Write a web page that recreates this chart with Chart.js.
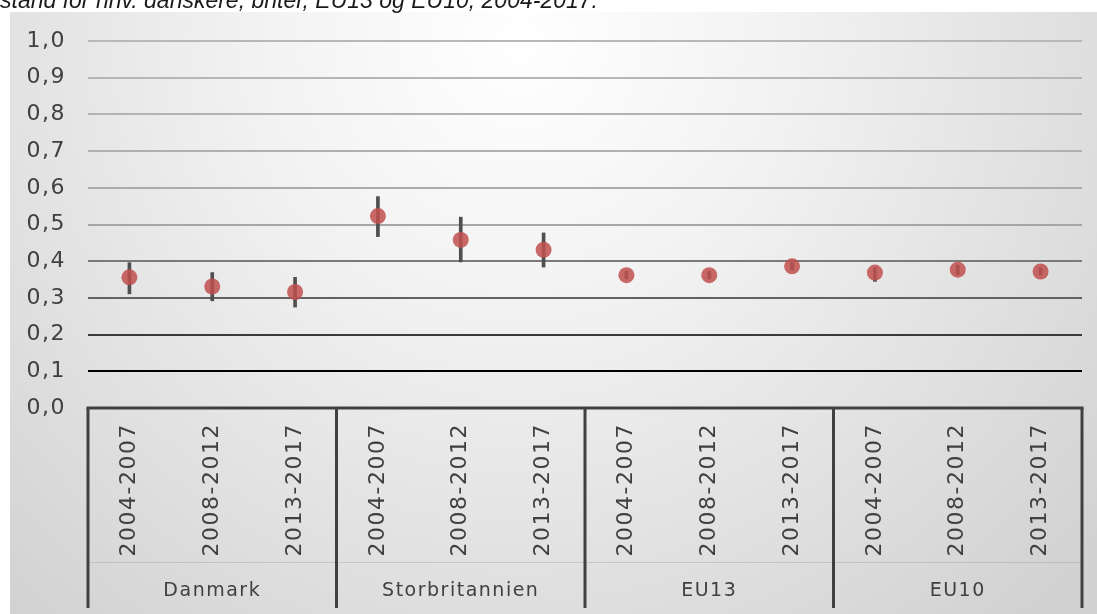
<!DOCTYPE html>
<html>
<head>
<meta charset="utf-8">
<script src="https://cdn.jsdelivr.net/npm/chart.js@4/dist/chart.umd.min.js"></script>
<style>
  html, body { margin: 0; padding: 0; background: #ffffff; overflow: hidden; }
  #wrap { position: relative; width: 1097px; height: 614px; }
  #cap { position: absolute; left: 0px; top: -11px; font: italic 23px "Liberation Sans", Arial, sans-serif; line-height: 23px; color: #1a1a1a; white-space: nowrap; z-index: 2; }
  canvas { position: absolute; left: 0; top: 0; }
</style>
</head>
<body>
<div id="wrap">
  <div id="cap">stand for hhv. danskere, briter, EU13 og EU10, 2004-2017.</div>
  <canvas id="c" width="1097" height="614"></canvas>
</div>
<script>
const categories = ['2004-2007','2008-2012','2013-2017','2004-2007','2008-2012','2013-2017','2004-2007','2008-2012','2013-2017','2004-2007','2008-2012','2013-2017'];
const groups = ['Danmark','Storbritannien','EU13','EU10'];
const pointValues = [0.356, 0.331, 0.316, 0.523, 0.458, 0.431, 0.362, 0.362, 0.386, 0.369, 0.377, 0.372];
const lowValues   = [0.311, 0.292, 0.275, 0.467, 0.398, 0.384, 0.352, 0.352, 0.376, 0.345, 0.364, 0.362];
const highValues  = [0.396, 0.369, 0.356, 0.576, 0.520, 0.477, 0.372, 0.372, 0.396, 0.383, 0.389, 0.382];
const yTickValues = [0.0, 0.1, 0.2, 0.3, 0.4, 0.5, 0.6, 0.7, 0.8, 0.9, 1.0];

const gridColors = ['rgba(0,0,0,0)', '#000000', '#3a3a3a', '#626262', '#7a7a7a', '#a6a6a6', '#ababab', '#b0b0b0', '#b3b3b3', '#b6b6b6', '#b8b8b8'];
const FONT = '"DejaVu Sans", "Noto Sans", sans-serif';

const spacingPlugin = {
  id: 'spacing',
  beforeInit(chart) { chart.ctx.letterSpacing = '1.5px'; },
  beforeUpdate(chart) { chart.ctx.letterSpacing = '1.5px'; },
  beforeDraw(chart) { chart.ctx.letterSpacing = '1.5px'; }
};

const bgPlugin = {
  id: 'bg',
  beforeDraw(chart) {
    const ctx = chart.ctx;
    ctx.save();
    const g = ctx.createRadialGradient(520, 40, 0, 520, 40, 760);
    g.addColorStop(0, '#ffffff');
    g.addColorStop(0.35, '#f2f2f2');
    g.addColorStop(1, '#d2d2d2');
    ctx.fillStyle = g;
    ctx.fillRect(10, 12, 1087, 602);
    ctx.restore();
  }
};

const framePlugin = {
  id: 'frame',
  afterDraw(chart) {
    const ctx = chart.ctx;
    const x = chart.scales.x, y = chart.scales.y, g = chart.scales.xg;
    const y0 = y.getPixelForValue(0);
    const bottom = 608;
    ctx.save();
    ctx.strokeStyle = 'rgba(150,150,150,0.35)';
    ctx.lineWidth = 1;
    ctx.beginPath();
    ctx.moveTo(chart.chartArea.left, g.top + 0.5);
    ctx.lineTo(chart.chartArea.right, g.top + 0.5);
    ctx.stroke();
    ctx.strokeStyle = '#404040';
    ctx.lineWidth = 3;
    ctx.beginPath();
    ctx.moveTo(chart.chartArea.left - 1.5, y0);
    ctx.lineTo(chart.chartArea.right + 1.5, y0);
    ctx.stroke();
    const n = categories.length;
    const step = (x.getPixelForValue(1) - x.getPixelForValue(0));
    const bounds = [];
    for (let i = 0; i <= n; i += 3) {
      bounds.push(x.getPixelForValue(0) - step / 2 + i * step);
    }
    ctx.beginPath();
    bounds.forEach(bx => { ctx.moveTo(bx, y0); ctx.lineTo(bx, bottom); });
    ctx.stroke();
    ctx.restore();
  }
};

new Chart(document.getElementById('c'), {
  type: 'bar',
  data: {
    labels: categories,
    datasets: [
      {
        type: 'line',
        data: pointValues,
        showLine: false,
        pointRadius: 8,
        pointHoverRadius: 8,
        pointBackgroundColor: 'rgba(192,80,77,0.85)',
        pointBorderWidth: 0,
        pointBorderColor: 'rgba(0,0,0,0)',
        order: 0
      },
      {
        type: 'bar',
        data: lowValues.map((lo, i) => [lo, highValues[i]]),
        backgroundColor: '#4f4f4f',
        borderWidth: 0,
        barThickness: 3,
        order: 1
      }
    ]
  },
  options: {
    responsive: false,
    animation: false,
    events: [],
    layout: { padding: { top: 41, right: 15, left: 0, bottom: 0 } },
    plugins: { legend: { display: false }, tooltip: { enabled: false } },
    scales: {
      y: {
        min: 0, max: 1,
        afterFit(s) { s.width = 88; },
        afterBuildTicks(s) { s.ticks = yTickValues.map(v => ({ value: v })); },
        ticks: {
          padding: 22,
          color: '#404040',
          font: { family: FONT, size: 22 },
          callback: (v) => Number(v).toFixed(1).replace('.', ',')
        },
        grid: {
          drawTicks: false,
          lineWidth: 2,
          color: (ctx) => gridColors[Math.round(ctx.tick.value * 10)] || '#b0b0b0'
        },
        border: { display: false }
      },
      x: {
        position: 'bottom',
        offset: true,
        afterFit(s) { s.height = 154; },
        ticks: {
          autoSkip: false,
          minRotation: 90,
          maxRotation: 90,
          padding: 15,
          color: '#404040',
          font: { family: FONT, size: 22 }
        },
        grid: { display: false, drawTicks: false },
        border: { display: false }
      },
      xg: {
        type: 'category',
        position: 'bottom',
        labels: groups,
        offset: true,
        afterFit(s) { s.height = 52; },
        ticks: {
          autoSkip: false,
          maxRotation: 0,
          minRotation: 0,
          padding: 18,
          color: '#404040',
          font: { family: FONT, size: 19 }
        },
        grid: { display: false, drawTicks: false },
        border: { display: false }
      }
    }
  },
  plugins: [spacingPlugin, bgPlugin, framePlugin]
});
</script>
</body>
</html>
